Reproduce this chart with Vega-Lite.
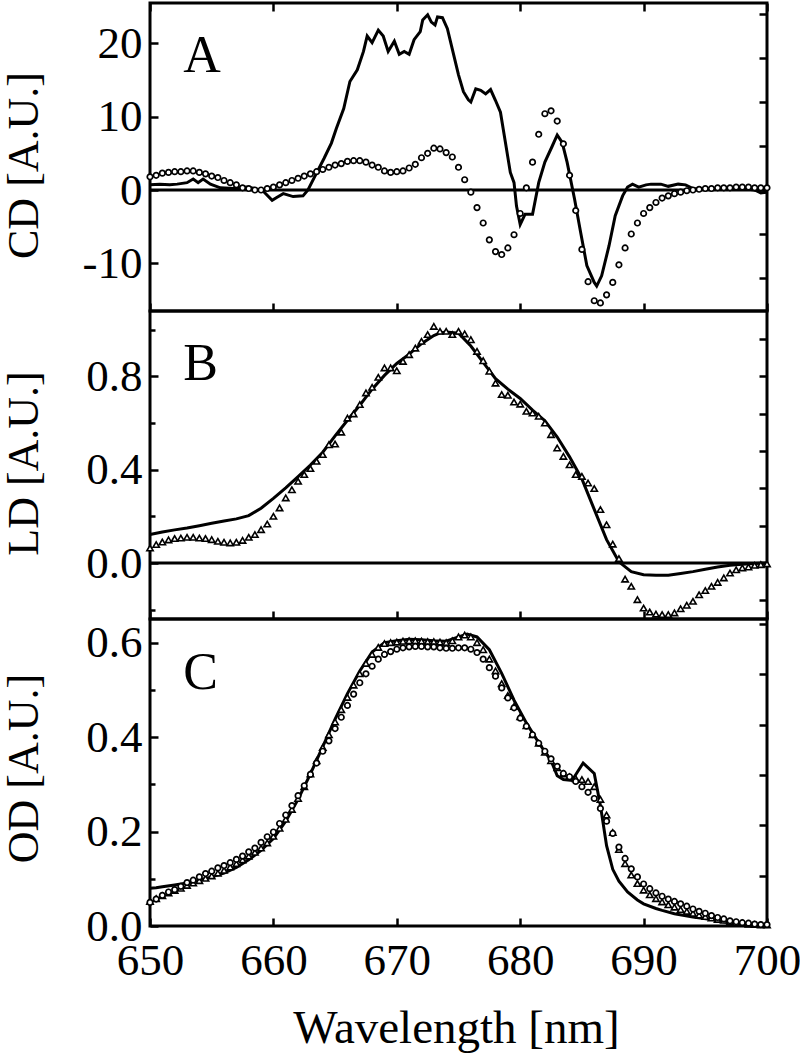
{
  "$schema": "https://vega.github.io/schema/vega-lite/v6.json",
  "background": "white",
  "padding": {"left": 0, "top": 0, "right": 20, "bottom": 0},
  "spacing": 0,
  "bounds": "flush",
  "config": {
    "font": "Liberation Serif, Times New Roman, serif",
    "view": {"stroke": "black", "strokeWidth": 3},
    "concat": {"spacing": 0},
    "axis": {
      "domain": false, "grid": false, "ticks": true, "tickColor": "black", "tickWidth": 2.5, "tickSize": -8,
      "labelFont": "Liberation Serif, Times New Roman, serif", "labelFontSize": 45, "labelColor": "black", "labelPadding": 16,
      "labelFlush": false, "labelOverlap": false,
      "titleFont": "Liberation Serif, Times New Roman, serif", "titleFontSize": 44, "titleFontWeight": "normal", "titleColor": "black"
    }
  },
  "datasets": {
    "cdLine": [
      {"x":650.0,"y":0.7},{"x":650.8,"y":0.8},{"x":651.6,"y":0.7},{"x":652.2,"y":0.8},{"x":653.0,"y":1.0},{"x":653.5,"y":1.5},{"x":653.9,"y":1.0},{"x":654.3,"y":1.5},{"x":654.9,"y":0.8},{"x":655.7,"y":0.3},{"x":656.8,"y":0.2},{"x":657.8,"y":0.4},{"x":658.5,"y":0.2},{"x":659.2,"y":-0.2},{"x":659.9,"y":-1.4},{"x":660.3,"y":-1.0},{"x":660.8,"y":-0.5},{"x":661.6,"y":-0.9},{"x":662.4,"y":-0.8},{"x":662.8,"y":0.0},{"x":663.4,"y":2.0},{"x":664.1,"y":4.3},{"x":664.7,"y":6.4},{"x":665.1,"y":8.4},{"x":665.7,"y":11.1},{"x":666.2,"y":14.8},{"x":666.8,"y":16.4},{"x":667.3,"y":18.9},{"x":667.6,"y":21.0},{"x":668.0,"y":20.1},{"x":668.5,"y":21.8},{"x":668.9,"y":21.0},{"x":669.3,"y":18.9},{"x":669.8,"y":20.3},{"x":670.2,"y":18.5},{"x":670.6,"y":18.9},{"x":671.0,"y":18.5},{"x":671.4,"y":20.5},{"x":671.9,"y":21.6},{"x":672.1,"y":23.2},{"x":672.5,"y":23.9},{"x":672.8,"y":22.9},{"x":673.1,"y":22.5},{"x":673.3,"y":23.6},{"x":673.7,"y":23.5},{"x":674.1,"y":22.0},{"x":674.6,"y":18.5},{"x":675.0,"y":15.7},{"x":675.4,"y":13.4},{"x":675.8,"y":12.3},{"x":676.0,"y":12.0},{"x":676.4,"y":13.8},{"x":676.8,"y":13.6},{"x":677.2,"y":13.1},{"x":677.6,"y":13.7},{"x":678.0,"y":12.2},{"x":678.4,"y":10.6},{"x":678.8,"y":6.5},{"x":679.2,"y":2.4},{"x":679.5,"y":1.0},{"x":679.7,"y":-2.2},{"x":680.0,"y":-4.7},{"x":680.4,"y":-3.3},{"x":681.0,"y":-3.3},{"x":681.5,"y":1.0},{"x":682.0,"y":3.8},{"x":682.6,"y":6.0},{"x":683.0,"y":7.5},{"x":683.4,"y":6.5},{"x":683.8,"y":3.8},{"x":684.4,"y":-1.2},{"x":684.9,"y":-5.8},{"x":685.4,"y":-10.3},{"x":686.0,"y":-12.6},{"x":686.2,"y":-13.1},{"x":686.6,"y":-11.7},{"x":687.2,"y":-7.6},{"x":687.7,"y":-3.5},{"x":688.3,"y":-0.8},{"x":688.7,"y":0.4},{"x":689.1,"y":0.8},{"x":689.6,"y":0.4},{"x":690.2,"y":0.7},{"x":690.6,"y":0.8},{"x":691.4,"y":0.8},{"x":692.0,"y":0.5},{"x":692.8,"y":0.8},{"x":693.4,"y":0.7},{"x":694.0,"y":0.2},{"x":695.0,"y":0.1},{"x":696.0,"y":0.1},{"x":697.0,"y":0.2},{"x":698.0,"y":0.2},{"x":699.0,"y":0.0},{"x":699.5,"y":-0.4},{"x":700.0,"y":-0.3}
    ],
    "cdPts": [
      {"x":650.0,"y":1.8},{"x":650.5,"y":2.0},{"x":651.0,"y":2.3},{"x":651.5,"y":2.4},{"x":652.0,"y":2.5},{"x":652.5,"y":2.5},{"x":653.0,"y":2.6},{"x":653.5,"y":2.6},{"x":654.0,"y":2.4},{"x":654.5,"y":2.2},{"x":655.0,"y":1.9},{"x":655.5,"y":1.7},{"x":656.0,"y":1.3},{"x":656.5,"y":1.0},{"x":657.0,"y":0.7},{"x":657.5,"y":0.3},{"x":658.0,"y":0.2},{"x":658.5,"y":0.0},{"x":659.0,"y":0.0},{"x":659.5,"y":0.2},{"x":660.0,"y":0.4},{"x":660.5,"y":0.7},{"x":661.0,"y":1.0},{"x":661.5,"y":1.3},{"x":662.0,"y":1.6},{"x":662.5,"y":1.9},{"x":663.0,"y":2.2},{"x":663.5,"y":2.5},{"x":664.0,"y":2.8},{"x":664.5,"y":3.1},{"x":665.0,"y":3.4},{"x":665.5,"y":3.6},{"x":666.0,"y":3.9},{"x":666.5,"y":4.0},{"x":667.0,"y":4.0},{"x":667.5,"y":3.8},{"x":668.0,"y":3.4},{"x":668.5,"y":3.1},{"x":669.0,"y":2.6},{"x":669.5,"y":2.4},{"x":670.0,"y":2.5},{"x":670.5,"y":2.6},{"x":671.0,"y":3.0},{"x":671.5,"y":3.5},{"x":672.0,"y":4.4},{"x":672.5,"y":5.0},{"x":673.0,"y":5.7},{"x":673.5,"y":5.6},{"x":674.0,"y":5.1},{"x":674.5,"y":4.5},{"x":675.0,"y":3.1},{"x":675.5,"y":1.4},{"x":676.0,"y":-0.3},{"x":676.5,"y":-2.4},{"x":677.0,"y":-4.5},{"x":677.5,"y":-6.8},{"x":678.0,"y":-8.4},{"x":678.5,"y":-8.8},{"x":679.0,"y":-7.9},{"x":679.5,"y":-6.1},{"x":680.0,"y":-3.2},{"x":680.5,"y":0.3},{"x":681.0,"y":3.8},{"x":681.5,"y":7.6},{"x":682.0,"y":10.4},{"x":682.5,"y":10.8},{"x":683.0,"y":9.4},{"x":683.5,"y":6.3},{"x":684.0,"y":2.0},{"x":684.5,"y":-2.8},{"x":685.0,"y":-8.1},{"x":685.5,"y":-12.5},{"x":686.0,"y":-15.1},{"x":686.5,"y":-15.4},{"x":687.0,"y":-14.3},{"x":687.5,"y":-12.6},{"x":688.0,"y":-10.2},{"x":688.5,"y":-7.9},{"x":689.0,"y":-6.0},{"x":689.5,"y":-4.5},{"x":690.0,"y":-3.2},{"x":690.5,"y":-2.4},{"x":691.0,"y":-1.7},{"x":691.5,"y":-1.1},{"x":692.0,"y":-0.8},{"x":692.5,"y":-0.5},{"x":693.0,"y":-0.3},{"x":693.5,"y":-0.1},{"x":694.0,"y":0.0},{"x":694.5,"y":0.1},{"x":695.0,"y":0.2},{"x":695.5,"y":0.2},{"x":696.0,"y":0.3},{"x":696.5,"y":0.3},{"x":697.0,"y":0.3},{"x":697.5,"y":0.4},{"x":698.0,"y":0.4},{"x":698.5,"y":0.4},{"x":699.0,"y":0.3},{"x":699.5,"y":0.3},{"x":700.0,"y":0.3}
    ],
    "ldLine": [
      {"x":650.0,"y":0.122},{"x":651.0,"y":0.133},{"x":652.0,"y":0.142},{"x":653.0,"y":0.150},{"x":654.0,"y":0.160},{"x":655.0,"y":0.170},{"x":656.0,"y":0.180},{"x":657.0,"y":0.189},{"x":658.0,"y":0.203},{"x":659.0,"y":0.235},{"x":660.0,"y":0.277},{"x":661.0,"y":0.322},{"x":662.0,"y":0.370},{"x":663.0,"y":0.420},{"x":664.0,"y":0.475},{"x":665.0,"y":0.545},{"x":666.0,"y":0.612},{"x":667.0,"y":0.676},{"x":668.0,"y":0.745},{"x":669.0,"y":0.804},{"x":670.0,"y":0.855},{"x":671.0,"y":0.895},{"x":672.0,"y":0.940},{"x":673.0,"y":0.975},{"x":673.5,"y":0.986},{"x":674.0,"y":0.990},{"x":675.0,"y":0.985},{"x":676.0,"y":0.930},{"x":677.0,"y":0.860},{"x":678.0,"y":0.790},{"x":679.0,"y":0.745},{"x":680.0,"y":0.705},{"x":681.0,"y":0.655},{"x":682.0,"y":0.610},{"x":683.0,"y":0.540},{"x":684.0,"y":0.455},{"x":685.0,"y":0.360},{"x":686.0,"y":0.230},{"x":687.0,"y":0.100},{"x":688.0,"y":0.005},{"x":689.0,"y":-0.037},{"x":690.0,"y":-0.050},{"x":691.0,"y":-0.053},{"x":692.0,"y":-0.052},{"x":693.0,"y":-0.045},{"x":694.0,"y":-0.037},{"x":695.0,"y":-0.027},{"x":696.0,"y":-0.017},{"x":697.0,"y":-0.010},{"x":698.0,"y":-0.005},{"x":699.0,"y":-0.002},{"x":700.0,"y":0.0}
    ],
    "ldPts": [
      {"x":650.0,"y":0.064},{"x":650.5,"y":0.079},{"x":651.0,"y":0.090},{"x":651.5,"y":0.099},{"x":652.0,"y":0.105},{"x":652.5,"y":0.107},{"x":653.0,"y":0.110},{"x":653.5,"y":0.110},{"x":654.0,"y":0.107},{"x":654.5,"y":0.105},{"x":655.0,"y":0.100},{"x":655.5,"y":0.093},{"x":656.0,"y":0.089},{"x":656.5,"y":0.086},{"x":657.0,"y":0.089},{"x":657.5,"y":0.097},{"x":658.0,"y":0.110},{"x":658.5,"y":0.122},{"x":659.0,"y":0.143},{"x":659.5,"y":0.167},{"x":660.0,"y":0.200},{"x":660.5,"y":0.236},{"x":661.0,"y":0.279},{"x":661.5,"y":0.314},{"x":662.0,"y":0.350},{"x":662.5,"y":0.379},{"x":663.0,"y":0.405},{"x":663.5,"y":0.436},{"x":664.0,"y":0.465},{"x":664.5,"y":0.507},{"x":665.0,"y":0.510},{"x":665.5,"y":0.561},{"x":666.0,"y":0.621},{"x":666.5,"y":0.639},{"x":667.0,"y":0.679},{"x":667.5,"y":0.729},{"x":668.0,"y":0.753},{"x":668.5,"y":0.796},{"x":669.0,"y":0.836},{"x":669.5,"y":0.836},{"x":670.0,"y":0.824},{"x":670.5,"y":0.864},{"x":671.0,"y":0.893},{"x":671.5,"y":0.921},{"x":672.0,"y":0.950},{"x":672.5,"y":0.979},{"x":673.0,"y":1.014},{"x":673.5,"y":0.993},{"x":674.0,"y":0.993},{"x":674.5,"y":0.979},{"x":675.0,"y":0.993},{"x":675.5,"y":0.982},{"x":676.0,"y":0.957},{"x":676.5,"y":0.907},{"x":677.0,"y":0.867},{"x":677.5,"y":0.822},{"x":678.0,"y":0.771},{"x":678.5,"y":0.722},{"x":679.0,"y":0.719},{"x":679.5,"y":0.690},{"x":680.0,"y":0.681},{"x":680.5,"y":0.650},{"x":681.0,"y":0.643},{"x":681.5,"y":0.629},{"x":682.0,"y":0.600},{"x":682.5,"y":0.550},{"x":683.0,"y":0.493},{"x":683.5,"y":0.457},{"x":684.0,"y":0.421},{"x":684.5,"y":0.379},{"x":685.0,"y":0.371},{"x":685.5,"y":0.343},{"x":686.0,"y":0.319},{"x":686.5,"y":0.229},{"x":687.0,"y":0.164},{"x":687.5,"y":0.081},{"x":688.0,"y":0.019},{"x":688.5,"y":-0.069},{"x":689.0,"y":-0.100},{"x":689.5,"y":-0.157},{"x":690.0,"y":-0.193},{"x":690.5,"y":-0.210},{"x":691.0,"y":-0.219},{"x":691.5,"y":-0.221},{"x":692.0,"y":-0.221},{"x":692.5,"y":-0.214},{"x":693.0,"y":-0.196},{"x":693.5,"y":-0.181},{"x":694.0,"y":-0.164},{"x":694.5,"y":-0.136},{"x":695.0,"y":-0.118},{"x":695.5,"y":-0.100},{"x":696.0,"y":-0.083},{"x":696.5,"y":-0.064},{"x":697.0,"y":-0.043},{"x":697.5,"y":-0.029},{"x":698.0,"y":-0.021},{"x":698.5,"y":-0.017},{"x":699.0,"y":-0.010},{"x":699.5,"y":-0.007},{"x":700.0,"y":-0.004}
    ],
    "odLine": [
      {"x":650.0,"y":0.080},{"x":650.5,"y":0.081},{"x":651.0,"y":0.083},{"x":652.0,"y":0.087},{"x":653.0,"y":0.091},{"x":654.0,"y":0.097},{"x":655.0,"y":0.104},{"x":656.0,"y":0.112},{"x":657.0,"y":0.124},{"x":658.0,"y":0.140},{"x":659.0,"y":0.160},{"x":660.0,"y":0.185},{"x":661.0,"y":0.222},{"x":662.0,"y":0.268},{"x":663.0,"y":0.322},{"x":664.0,"y":0.380},{"x":665.0,"y":0.438},{"x":666.0,"y":0.492},{"x":667.0,"y":0.540},{"x":668.0,"y":0.580},{"x":669.0,"y":0.600},{"x":670.0,"y":0.604},{"x":671.0,"y":0.607},{"x":672.0,"y":0.606},{"x":673.0,"y":0.604},{"x":674.0,"y":0.603},{"x":675.0,"y":0.612},{"x":675.7,"y":0.618},{"x":676.5,"y":0.612},{"x":677.5,"y":0.585},{"x":678.5,"y":0.535},{"x":679.5,"y":0.478},{"x":680.5,"y":0.430},{"x":681.5,"y":0.388},{"x":682.5,"y":0.350},{"x":683.0,"y":0.318},{"x":683.5,"y":0.310},{"x":684.2,"y":0.308},{"x":685.1,"y":0.345},{"x":686.0,"y":0.323},{"x":686.5,"y":0.255},{"x":687.0,"y":0.170},{"x":687.5,"y":0.120},{"x":688.0,"y":0.095},{"x":688.7,"y":0.072},{"x":689.5,"y":0.055},{"x":690.0,"y":0.047},{"x":691.0,"y":0.037},{"x":691.5,"y":0.033},{"x":692.5,"y":0.026},{"x":694.0,"y":0.019},{"x":695.5,"y":0.014},{"x":696.7,"y":0.008},{"x":698.0,"y":0.004},{"x":699.5,"y":0.001},{"x":700.0,"y":0.001}
    ],
    "odTri": [
      {"x":650.0,"y":0.052},{"x":650.5,"y":0.058},{"x":651.0,"y":0.064},{"x":651.5,"y":0.070},{"x":652.0,"y":0.075},{"x":652.5,"y":0.080},{"x":653.0,"y":0.086},{"x":653.5,"y":0.091},{"x":654.0,"y":0.096},{"x":654.5,"y":0.101},{"x":655.0,"y":0.106},{"x":655.5,"y":0.112},{"x":656.0,"y":0.118},{"x":656.5,"y":0.125},{"x":657.0,"y":0.132},{"x":657.5,"y":0.140},{"x":658.0,"y":0.148},{"x":658.5,"y":0.156},{"x":659.0,"y":0.165},{"x":659.5,"y":0.176},{"x":660.0,"y":0.190},{"x":660.5,"y":0.207},{"x":661.0,"y":0.226},{"x":661.5,"y":0.247},{"x":662.0,"y":0.270},{"x":662.5,"y":0.295},{"x":663.0,"y":0.322},{"x":663.5,"y":0.350},{"x":664.0,"y":0.378},{"x":664.5,"y":0.405},{"x":665.0,"y":0.432},{"x":665.5,"y":0.458},{"x":666.0,"y":0.484},{"x":666.5,"y":0.510},{"x":667.0,"y":0.534},{"x":667.5,"y":0.556},{"x":668.0,"y":0.575},{"x":668.5,"y":0.590},{"x":669.0,"y":0.598},{"x":669.5,"y":0.600},{"x":670.0,"y":0.601},{"x":670.5,"y":0.603},{"x":671.0,"y":0.604},{"x":671.5,"y":0.604},{"x":672.0,"y":0.603},{"x":672.5,"y":0.602},{"x":673.0,"y":0.602},{"x":673.5,"y":0.601},{"x":674.0,"y":0.600},{"x":674.5,"y":0.604},{"x":675.0,"y":0.612},{"x":675.5,"y":0.616},{"x":676.0,"y":0.612},{"x":676.5,"y":0.600},{"x":677.0,"y":0.585},{"x":677.5,"y":0.565},{"x":678.0,"y":0.540},{"x":678.5,"y":0.513},{"x":679.0,"y":0.488},{"x":679.5,"y":0.465},{"x":680.0,"y":0.443},{"x":680.5,"y":0.424},{"x":681.0,"y":0.405},{"x":681.5,"y":0.387},{"x":682.0,"y":0.368},{"x":682.5,"y":0.350},{"x":683.0,"y":0.335},{"x":683.5,"y":0.322},{"x":684.0,"y":0.316},{"x":684.5,"y":0.312},{"x":685.0,"y":0.310},{"x":685.5,"y":0.306},{"x":686.0,"y":0.295},{"x":686.5,"y":0.268},{"x":687.0,"y":0.235},{"x":687.5,"y":0.198},{"x":688.0,"y":0.162},{"x":688.5,"y":0.132},{"x":689.0,"y":0.108},{"x":689.5,"y":0.090},{"x":690.0,"y":0.076},{"x":690.5,"y":0.066},{"x":691.0,"y":0.058},{"x":691.5,"y":0.051},{"x":692.0,"y":0.045},{"x":692.5,"y":0.040},{"x":693.0,"y":0.035},{"x":693.5,"y":0.031},{"x":694.0,"y":0.027},{"x":694.5,"y":0.023},{"x":695.0,"y":0.020},{"x":695.5,"y":0.017},{"x":696.0,"y":0.014},{"x":696.5,"y":0.012},{"x":697.0,"y":0.009},{"x":697.5,"y":0.007},{"x":698.0,"y":0.006},{"x":698.5,"y":0.004},{"x":699.0,"y":0.003},{"x":699.5,"y":0.002},{"x":700.0,"y":0.002}
    ],
    "odCirc": [
      {"x":650.0,"y":0.050},{"x":650.5,"y":0.057},{"x":651.0,"y":0.065},{"x":651.5,"y":0.072},{"x":652.0,"y":0.077},{"x":652.5,"y":0.084},{"x":653.0,"y":0.092},{"x":653.5,"y":0.097},{"x":654.0,"y":0.104},{"x":654.5,"y":0.111},{"x":655.0,"y":0.116},{"x":655.5,"y":0.123},{"x":656.0,"y":0.128},{"x":656.5,"y":0.134},{"x":657.0,"y":0.141},{"x":657.5,"y":0.148},{"x":658.0,"y":0.157},{"x":658.5,"y":0.165},{"x":659.0,"y":0.177},{"x":659.5,"y":0.189},{"x":660.0,"y":0.199},{"x":660.5,"y":0.217},{"x":661.0,"y":0.235},{"x":661.5,"y":0.255},{"x":662.0,"y":0.276},{"x":662.5,"y":0.297},{"x":663.0,"y":0.321},{"x":663.5,"y":0.345},{"x":664.0,"y":0.370},{"x":664.5,"y":0.392},{"x":665.0,"y":0.418},{"x":665.5,"y":0.442},{"x":666.0,"y":0.467},{"x":666.5,"y":0.491},{"x":667.0,"y":0.515},{"x":667.5,"y":0.534},{"x":668.0,"y":0.550},{"x":668.5,"y":0.565},{"x":669.0,"y":0.575},{"x":669.5,"y":0.581},{"x":670.0,"y":0.586},{"x":670.5,"y":0.589},{"x":671.0,"y":0.591},{"x":671.5,"y":0.592},{"x":672.0,"y":0.592},{"x":672.5,"y":0.591},{"x":673.0,"y":0.591},{"x":673.5,"y":0.589},{"x":674.0,"y":0.588},{"x":674.5,"y":0.588},{"x":675.0,"y":0.589},{"x":675.5,"y":0.589},{"x":676.0,"y":0.586},{"x":676.5,"y":0.579},{"x":677.0,"y":0.565},{"x":677.5,"y":0.547},{"x":678.0,"y":0.529},{"x":678.5,"y":0.504},{"x":679.0,"y":0.483},{"x":679.5,"y":0.462},{"x":680.0,"y":0.440},{"x":680.5,"y":0.423},{"x":681.0,"y":0.405},{"x":681.5,"y":0.387},{"x":682.0,"y":0.370},{"x":682.5,"y":0.354},{"x":683.0,"y":0.338},{"x":683.5,"y":0.323},{"x":684.0,"y":0.316},{"x":684.5,"y":0.306},{"x":685.0,"y":0.295},{"x":685.5,"y":0.283},{"x":686.0,"y":0.270},{"x":686.5,"y":0.249},{"x":687.0,"y":0.222},{"x":687.5,"y":0.196},{"x":688.0,"y":0.167},{"x":688.5,"y":0.143},{"x":689.0,"y":0.121},{"x":689.5,"y":0.104},{"x":690.0,"y":0.089},{"x":690.5,"y":0.079},{"x":691.0,"y":0.070},{"x":691.5,"y":0.063},{"x":692.0,"y":0.057},{"x":692.5,"y":0.052},{"x":693.0,"y":0.047},{"x":693.5,"y":0.042},{"x":694.0,"y":0.036},{"x":694.5,"y":0.031},{"x":695.0,"y":0.027},{"x":695.5,"y":0.022},{"x":696.0,"y":0.018},{"x":696.5,"y":0.015},{"x":697.0,"y":0.011},{"x":697.5,"y":0.009},{"x":698.0,"y":0.007},{"x":698.5,"y":0.006},{"x":699.0,"y":0.004},{"x":699.5,"y":0.003},{"x":700.0,"y":0.003}
    ]
  },
  "vconcat": [
    {
      "width": 617, "height": 308,
      "layer": [
        {
          "data": {"values": [{"z": 0}]},
          "mark": {"type": "rule", "color": "black", "strokeWidth": 2.8},
          "encoding": {"y": {"field": "z", "type": "quantitative", "scale": {"domain": [-16.5, 25.5], "nice": false, "zero": false},
            "axis": {"orient": "right", "values": [-12, -6, 0, 6, 12, 18, 24], "labels": false, "title": null}}}
        },
        {
          "data": {"name": "cdLine"},
          "mark": {"type": "line", "color": "black", "strokeWidth": 3},
          "encoding": {
            "x": {"field": "x", "type": "quantitative", "scale": {"domain": [650, 700], "nice": false, "zero": false},
              "axis": {"orient": "bottom", "values": [650, 660, 670, 680, 690, 700], "labels": false, "title": null}},
            "y": {"field": "y", "type": "quantitative",
              "axis": {"orient": "left", "values": [-10, 0, 10, 20], "labelExpr": "replace(datum.label, '−', '-')", "title": "CD [A.U.]", "titleX": -113, "titleY": 162, "titleBaseline": "alphabetic"}}
          }
        },
        {
          "data": {"name": "cdPts"},
          "mark": {"type": "point", "shape": "circle", "filled": true, "fill": "white", "stroke": "black", "strokeWidth": 1.7, "size": 30, "opacity": 1},
          "encoding": {
            "x": {"field": "x", "type": "quantitative", "axis": {"orient": "top", "values": [650, 660, 670, 680, 690, 700], "labels": false, "title": null}},
            "y": {"field": "y", "type": "quantitative", "axis": null}
          }
        },
        {
          "data": {"values": [{"x": 652.7, "y": 16.1, "t": "A"}]},
          "mark": {"type": "text", "font": "Liberation Serif, Times New Roman, serif", "fontSize": 52, "align": "left", "baseline": "alphabetic", "color": "black"},
          "encoding": {
            "x": {"field": "x", "type": "quantitative", "axis": null},
            "y": {"field": "y", "type": "quantitative", "axis": null},
            "text": {"field": "t"}
          }
        }
      ],
      "resolve": {"axis": {"x": "independent", "y": "independent"}}
    },
    {
      "width": 617, "height": 308,
      "layer": [
        {
          "data": {"values": [{"z": 0}]},
          "mark": {"type": "rule", "color": "black", "strokeWidth": 2.8},
          "encoding": {"y": {"field": "z", "type": "quantitative", "scale": {"domain": [-0.24, 1.08], "nice": false, "zero": false},
            "axis": {"orient": "right", "values": [-0.16, 0, 0.16, 0.32, 0.48, 0.64, 0.8, 0.96], "labels": false, "title": null}}}
        },
        {
          "data": {"name": "ldLine"},
          "mark": {"type": "line", "color": "black", "strokeWidth": 3},
          "encoding": {
            "x": {"field": "x", "type": "quantitative", "scale": {"domain": [650, 700], "nice": false, "zero": false},
              "axis": {"orient": "bottom", "values": [650, 660, 670, 680, 690, 700], "labels": false, "title": null}},
            "y": {"field": "y", "type": "quantitative",
              "axis": {"orient": "left", "values": [0, 0.4, 0.8], "format": ".1f", "title": "LD [A.U.]", "titleX": -113, "titleY": 152, "titleBaseline": "alphabetic"}}
          }
        },
        {
          "data": {"name": "ldPts"},
          "mark": {"type": "point", "shape": "triangle-up", "filled": true, "fill": "white", "stroke": "black", "strokeWidth": 1.6, "size": 40, "opacity": 1},
          "encoding": {
            "x": {"field": "x", "type": "quantitative", "axis": null},
            "y": {"field": "y", "type": "quantitative", "axis": {"orient": "left", "values": [-0.2, 0.2, 0.6, 1.0], "labels": false, "tickSize": -5, "title": null}}
          }
        },
        {
          "data": {"values": [{"x": 652.7, "y": 0.783, "t": "B"}]},
          "mark": {"type": "text", "font": "Liberation Serif, Times New Roman, serif", "fontSize": 52, "align": "left", "baseline": "alphabetic", "color": "black"},
          "encoding": {
            "x": {"field": "x", "type": "quantitative", "axis": null},
            "y": {"field": "y", "type": "quantitative", "axis": null},
            "text": {"field": "t"}
          }
        }
      ],
      "resolve": {"axis": {"x": "independent", "y": "independent"}}
    },
    {
      "width": 617, "height": 307,
      "layer": [
        {
          "data": {"name": "odLine"},
          "mark": {"type": "line", "color": "black", "strokeWidth": 3},
          "encoding": {
            "x": {"field": "x", "type": "quantitative", "scale": {"domain": [650, 700], "nice": false, "zero": false},
              "axis": {"orient": "bottom", "values": [650, 660, 670, 680, 690, 700], "format": "d", "labelPadding": 20, "title": "Wavelength [nm]", "titleY": 116, "titleX": 306, "titleBaseline": "alphabetic", "titleFontSize": 47}},
            "y": {"field": "y", "type": "quantitative", "scale": {"domain": [0, 0.65], "nice": false, "zero": false},
              "axis": {"orient": "left", "values": [0, 0.2, 0.4, 0.6], "format": ".1f", "title": "OD [A.U.]", "titleX": -113, "titleY": 149, "titleBaseline": "alphabetic"}}
          }
        },
        {
          "data": {"name": "odTri"},
          "mark": {"type": "point", "shape": "triangle-up", "filled": true, "fill": "white", "stroke": "black", "strokeWidth": 1.6, "size": 40, "opacity": 1},
          "encoding": {
            "x": {"field": "x", "type": "quantitative", "axis": null},
            "y": {"field": "y", "type": "quantitative", "axis": {"orient": "left", "values": [0.1, 0.3, 0.5], "labels": false, "tickSize": -5, "title": null}}
          }
        },
        {
          "data": {"name": "odCirc"},
          "mark": {"type": "point", "shape": "circle", "filled": true, "fill": "white", "stroke": "black", "strokeWidth": 1.7, "size": 30, "opacity": 1},
          "encoding": {
            "x": {"field": "x", "type": "quantitative", "axis": null},
            "y": {"field": "y", "type": "quantitative", "axis": {"orient": "right", "values": [0.1065, 0.213, 0.3195, 0.426, 0.5325, 0.639], "labels": false, "title": null}}
          }
        },
        {
          "data": {"values": [{"x": 652.7, "y": 0.5015, "t": "C"}]},
          "mark": {"type": "text", "font": "Liberation Serif, Times New Roman, serif", "fontSize": 52, "align": "left", "baseline": "alphabetic", "color": "black"},
          "encoding": {
            "x": {"field": "x", "type": "quantitative", "axis": null},
            "y": {"field": "y", "type": "quantitative", "axis": null},
            "text": {"field": "t"}
          }
        }
      ],
      "resolve": {"axis": {"x": "independent", "y": "independent"}}
    }
  ]
}
